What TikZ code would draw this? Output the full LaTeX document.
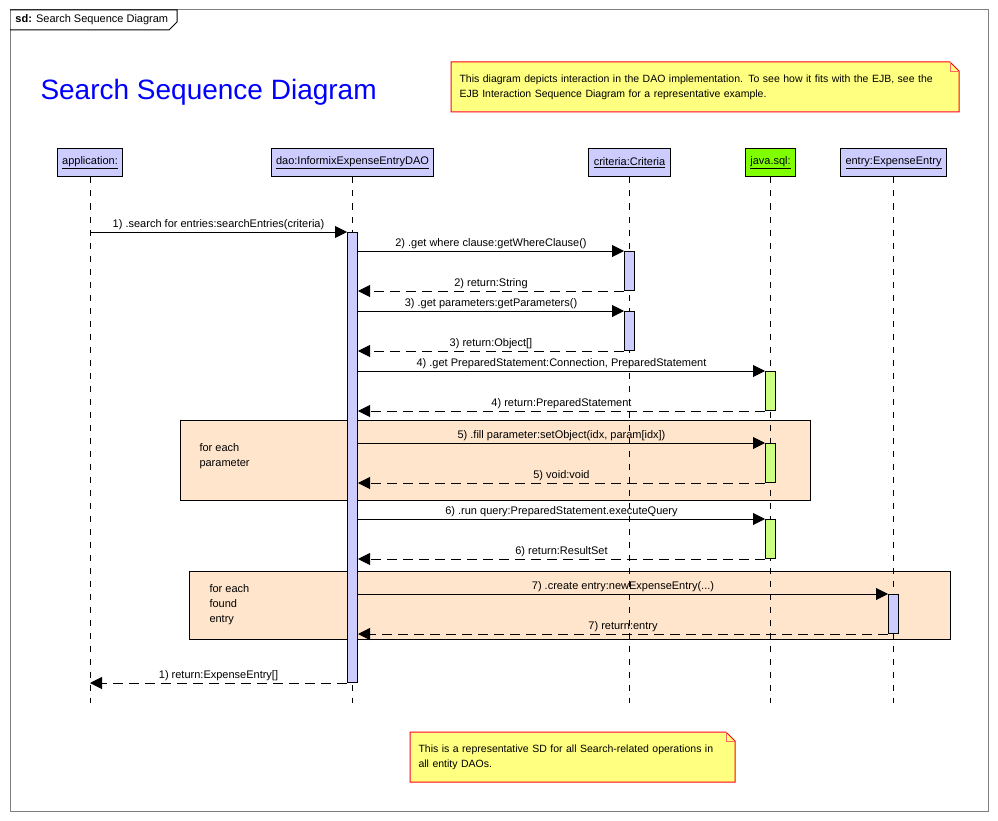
\documentclass[tikz,border=0pt]{standalone}
\usepackage{fontspec}
\setmainfont{Liberation Sans}
\usetikzlibrary{arrows.meta,calc}
\definecolor{lifeblue}{HTML}{CCCCFF}
\definecolor{sqlgreen}{HTML}{80FF00}
\definecolor{sqlact}{HTML}{CCFF80}
\definecolor{loopfill}{HTML}{FFE5CC}
\definecolor{notefill}{HTML}{FFFF80}
\definecolor{titleblue}{HTML}{0000FF}
\tikzstyle{head}=[draw,fill=lifeblue,minimum height=28pt,inner xsep=5pt,inner ysep=0pt,font=\fontsize{11}{13}\selectfont]
\tikzstyle{act}=[draw,fill=lifeblue,minimum width=10pt,inner sep=0pt,anchor=north]
\tikzstyle{lifeline}=[draw,dash pattern=on 6pt off 7pt]
\tikzstyle{call}=[draw,-{Triangle[length=12pt,width=12pt]}]
\tikzstyle{ret}=[draw,dash pattern=on 10pt off 6pt,-{Triangle[length=12pt,width=12pt]}]
\tikzstyle{msg}=[font=\fontsize{11}{13}\selectfont,above,inner sep=2pt]
\tikzstyle{loopbox}=[draw,fill=loopfill,inner sep=0pt,anchor=north west]
\tikzstyle{looptext}=[font=\fontsize{11}{15}\selectfont,align=left,anchor=north west,inner sep=0pt]
\tikzstyle{note}=[fill=notefill,inner xsep=8pt,inner ysep=0pt,minimum height=49pt,anchor=north west,align=left,font=\fontsize{10.5}{15}\selectfont]
\tikzstyle{noteline}=[draw=red,line width=1pt]

\begin{document}
\begin{tikzpicture}[x=1pt,y=-1pt,line width=1pt]
\useasboundingbox (0,0) rectangle (998,821);

% frame and tab
\draw[gray] (10,10) rectangle (988,811);
\draw (10,10) -- (177,10) -- (177,22) -- (169,30) -- (10,30);
\node[anchor=west,inner sep=0pt,font=\fontsize{11}{13}\selectfont] (tab) at (15,20) {\textbf{sd:} Search Sequence Diagram};

% title
\node[anchor=west,inner sep=0pt,text=titleblue,font=\fontsize{28}{32}\selectfont] (title) at (40,92) {Search Sequence Diagram};

% notes
\node[note,text width=491pt] (noteA) at (451,62) {This diagram depicts interaction in the DAO implementation. To see how it fits with the EJB, see the\\EJB Interaction Sequence Diagram for a representative example.};
\node[note,text width=308pt] (noteB) at (410,732) {This is a representative SD for all Search-related operations in\\all entity DAOs.};
\foreach \n in {noteA,noteB}{
  \fill[white] ([xshift=-9pt]\n.north east) -- (\n.north east) -- ([yshift=-9pt]\n.north east) -- cycle;
  \draw[noteline] (\n.north west) -- ([xshift=-9pt]\n.north east) -- ([yshift=-9pt]\n.north east) -- (\n.south east) -- (\n.south west) -- cycle;
  \draw[red!60,line width=0.5pt] ([xshift=-9pt]\n.north east) -- ([xshift=-9pt,yshift=-9pt]\n.north east) -- ([yshift=-9pt]\n.north east);
}

% loops
\node[loopbox,minimum width=630pt,minimum height=80pt] (loopA) at (180,420) {};
\node[loopbox,minimum width=761pt,minimum height=68pt] (loopB) at (189,571) {};
\node[looptext] at ($(loopA.north west)+(19,23)$) {for each\\parameter};
\node[looptext] at ($(loopB.north west)+(20,13)$) {for each\\found\\entry};

% lifeline heads
\coordinate (bottom) at (0,703);
\foreach \pos/\name/\label/\col in {{(90,163)/app/application:/lifeblue}, {(352.5,163)/dao/dao:InformixExpenseEntryDAO/lifeblue}, {(629.5,163)/crit/criteria:Criteria/lifeblue}, {(770.5,163)/sql/java.sql:/sqlgreen}, {(893.5,163)/entry/entry:ExpenseEntry/lifeblue}}
    \node[head,fill=\col] (\name) at \pos {\underline{\label}};
\foreach \name in {app,dao,crit,sql,entry}
    \draw[lifeline] (\name.south) -- (\name |- bottom);

% activations
\node[act,minimum height=450pt] (daoAct) at (352.5,232) {};
\foreach \pos/\name/\col in {{(629.5,251)/crA/lifeblue}, {(629.5,311)/crB/lifeblue}, {(770.5,371)/sqlA/sqlact}, {(770.5,443)/sqlB/sqlact}, {(770.5,519)/sqlC/sqlact}, {(893.5,594)/entA/lifeblue}}
    \node[act,fill=\col,minimum height=39pt] (\name) at \pos {};

% calls
\draw[call] (app |- daoAct.north west) -- node[msg] {1) .search for entries:searchEntries(criteria)} (daoAct.north west);
\foreach \dest/\txt in {crA/{2) .get where clause:getWhereClause()}, crB/{3) .get parameters:getParameters()}, sqlA/{4) .get PreparedStatement:Connection, PreparedStatement}, sqlB/{5) .fill parameter:setObject(idx, param[idx])}, sqlC/{6) .run query:PreparedStatement.executeQuery}, entA/{7) .create entry:newExpenseEntry(...)}}
    \draw[call] (daoAct.east |- \dest.north west) -- node[msg] {\txt} (\dest.north west);

% returns
\foreach \source/\txt in {crA/{2) return:String}, crB/{3) return:Object[]}, sqlA/{4) return:PreparedStatement}, sqlB/{5) void:void}, sqlC/{6) return:ResultSet}, entA/{7) return:entry}}
    \draw[ret] (\source.south west) -- node[msg] {\txt} (daoAct.east |- \source.south west);
\draw[ret] (daoAct.south west) -- node[msg] {1) return:ExpenseEntry[]} (app |- daoAct.south west);

\end{tikzpicture}
\end{document}
